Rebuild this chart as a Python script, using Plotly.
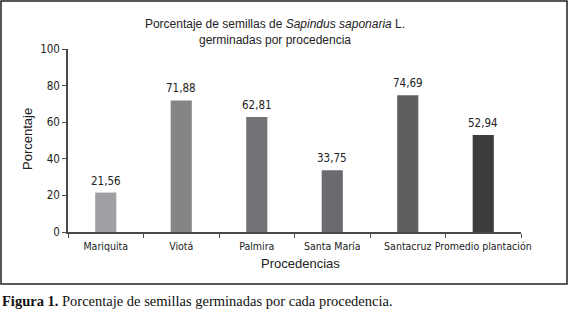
import plotly.graph_objects as go

categories = ["Mariquita", "Viotá", "Palmira", "Santa María", "Santacruz", "Promedio plantación"]
values = [21.56, 71.88, 62.81, 33.75, 74.69, 52.94]
value_labels = ["21,56", "71,88", "62,81", "33,75", "74,69", "52,94"]
bar_colors = ["#9ea0a4", "#858585", "#727377", "#6a6a6f", "#5f5f5f", "#3c3c3c"]
y_ticks = [0, 20, 40, 60, 80, 100]

W, H = 574, 314
L, R, T, B = 68, 53, 49, 82
pw, ph = W - L - R, H - T - B

def px(x):
    return (x - L) / pw

def py(y):
    return (H - B - y) / ph

narrow = "Liberation Sans Narrow, Arial Narrow, DejaVu Sans Condensed, sans-serif"
sans = "Liberation Sans, Arial, sans-serif"

fig = go.Figure(go.Bar(
    x=categories, y=values, marker_color=bar_colors, marker_line_width=0,
    hoverinfo="skip",
))

value_annotations = [
    dict(x=c, y=v, text=t, xref="x", yref="y", showarrow=False,
         xanchor="center", yanchor="middle", yshift=12,
         font=dict(family=narrow, size=11.5, color="#222"))
    for c, v, t in zip(categories, values, value_labels)
]

fig.update_layout(
    width=W, height=H, margin=dict(l=L, r=R, t=T, b=B, autoexpand=False),
    paper_bgcolor="white", plot_bgcolor="white",
    bargap=0.72, showlegend=False,
    title=dict(
        text="Porcentaje de semillas de <i>Sapindus saponaria</i> L.<br>germinadas por procedencia",
        x=px(275), xref="paper", xanchor="center", y=1 - 28 / H, yanchor="middle",
        font=dict(family=sans, size=12, color="#222"),
    ),
    xaxis=dict(
        automargin=False, tickangle=0, ticklabelstandoff=4,
        showline=True, linecolor="#4a4a4a", linewidth=1.5,
        ticks="outside", ticklen=4, tickcolor="#4a4a4a", tickson="boundaries",
        tickfont=dict(family=narrow, size=10.5, color="#222"),
    ),
    yaxis=dict(
        automargin=False,
        range=[0, 100], tickvals=y_ticks, showgrid=False, zeroline=False,
        showline=True, linecolor="#4a4a4a", linewidth=1.5,
        ticks="outside", ticklen=4, tickcolor="#4a4a4a",
        tickfont=dict(family=narrow, size=11.5, color="#222"),
    ),
    shapes=[dict(type="rect", xref="paper", yref="paper",
                 x0=px(1), x1=px(567), y0=py(284), y1=py(1),
                 line=dict(color="#222", width=1.5), fillcolor="rgba(0,0,0,0)", layer="below")],
    annotations=value_annotations + [
        dict(text="Procedencias", xref="paper", yref="paper", x=px(300), y=py(263),
             xanchor="center", yanchor="middle", showarrow=False,
             font=dict(family=sans, size=13, color="#222")),
        dict(text="Porcentaje", xref="paper", yref="paper", x=px(27), y=py(139),
             xanchor="center", yanchor="middle", showarrow=False, textangle=-90,
             font=dict(family=sans, size=13, color="#222")),
        dict(text="<b>Figura 1.</b> Porcentaje de semillas germinadas por cada procedencia.",
             xref="paper", yref="paper", x=px(0), y=py(301), xanchor="left", yanchor="middle",
             showarrow=False,
             font=dict(family="Liberation Serif, Times New Roman, serif", size=14.5, color="#111")),
    ],
)

fig.write_html("out.html", config={"displayModeBar": False},
               post_script="document.body.style.margin='0';")
